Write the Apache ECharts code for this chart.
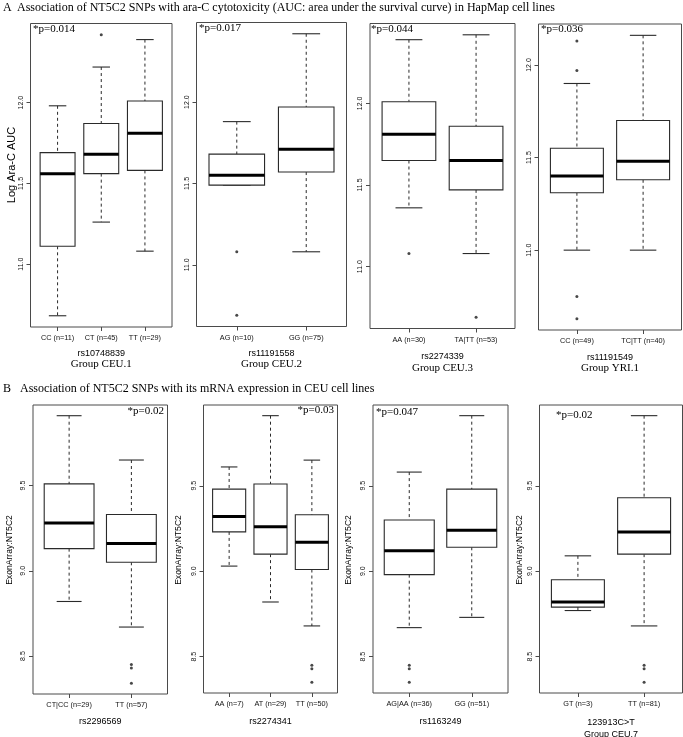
<!DOCTYPE html>
<html>
<head>
<meta charset="utf-8">
<script src="https://cdn.jsdelivr.net/npm/echarts@6/dist/echarts.min.js"></script>
<style>
  html, body { margin: 0; padding: 0; background: #fff; }
  #chart { width: 683px; height: 737px; }
</style>
</head>
<body>
<div id="chart"></div>
<script>
// ---------- DATA ----------
// box stats: [lower whisker, Q1, median, Q3, upper whisker]; outliers: [category index (1-based), value]
const a1Categories = ['CC (n=11)', 'CT (n=45)', 'TT (n=29)'];
const a1Boxes = [[10.68, 11.11, 11.56, 11.69, 11.98], [11.26, 11.56, 11.68, 11.87, 12.22], [11.08, 11.58, 11.81, 12.01, 12.39]];
const a1Outliers = [[2, 12.42]];

const a2Categories = ['AG (n=10)', 'GG (n=75)'];
const a2Boxes = [[11.49, 11.49, 11.55, 11.68, 11.88], [11.08, 11.57, 11.71, 11.97, 12.42]];
const a2Outliers = [[1, 11.08], [1, 10.69]];

const a3Categories = ['AA (n=30)', 'TA|TT (n=53)'];
const a3Boxes = [[11.36, 11.65, 11.81, 12.01, 12.39], [11.08, 11.47, 11.65, 11.86, 12.42]];
const a3Outliers = [[1, 11.08], [2, 10.69]];

const a4Categories = ['CC (n=49)', 'TC|TT (n=40)'];
const a4Boxes = [[11.00, 11.31, 11.40, 11.55, 11.90], [11.00, 11.38, 11.48, 11.70, 12.16]];
const a4Outliers = [[1, 12.13], [1, 11.97], [1, 10.75], [1, 10.63]];

const b1Categories = ['CT|CC (n=29)', 'TT (n=57)'];
const b1Boxes = [[8.82, 9.13, 9.28, 9.51, 9.91], [8.67, 9.05, 9.16, 9.33, 9.65]];
const b1Outliers = [[2, 8.45], [2, 8.43], [2, 8.34]];

const b2Categories = ['AA (n=7)', 'AT (n=29)', 'TT (n=50)'];
const b2Boxes = [[9.03, 9.23, 9.32, 9.48, 9.61], [8.82, 9.10, 9.26, 9.51, 9.91], [8.68, 9.01, 9.17, 9.33, 9.65]];
const b2Outliers = [[3, 8.45], [3, 8.43], [3, 8.35]];

const b3Categories = ['AG|AA (n=36)', 'GG (n=51)'];
const b3Boxes = [[8.67, 8.98, 9.12, 9.30, 9.58], [8.73, 9.14, 9.24, 9.48, 9.91]];
const b3Outliers = [[1, 8.45], [1, 8.43], [1, 8.35]];

const b4Categories = ['GT (n=3)', 'TT (n=81)'];
const b4Boxes = [[8.77, 8.79, 8.82, 8.95, 9.09], [8.68, 9.10, 9.23, 9.43, 9.91]];
const b4Outliers = [[2, 8.45], [2, 8.43], [2, 8.35]];

const aTicks = [11.0, 11.5, 12.0];
const bTicks = [8.5, 9.0, 9.5];

const snpNames = ['rs10748839', 'rs11191558', 'rs2274339', 'rs11191549', 'rs2296569', 'rs2274341', 'rs1163249', '123913C>T'];
const groupNames = ['Group CEU.1', 'Group CEU.2', 'Group CEU.3', 'Group YRI.1', '', '', '', 'Group CEU.7'];
const pValues = ['*p=0.014', '*p=0.017', '*p=0.044', '*p=0.036', '*p=0.02', '*p=0.03', '*p=0.047', '*p=0.02'];
const titleA = 'Association of NT5C2 SNPs with ara-C cytotoxicity (AUC: area under the survival curve) in HapMap cell lines';
const titleB = 'Association of NT5C2 SNPs with its mRNA expression in CEU cell lines';
const yNameA = 'Log Ara-C AUC';
const yNameB = 'ExonArray:NT5C2';

// ---------- LAYOUT ----------
const SANS = '"Liberation Sans", Arial, sans-serif';
const SERIF = '"Liberation Serif", "Times New Roman", serif';

const panels = [
  { cats: a1Categories, boxes: a1Boxes, out: a1Outliers, ticks: aTicks, grid: [30.5, 23.5, 141.5, 303.5], labY: 339, snpY: 354, grpY: 364.5, grpFont: SERIF, p: { x: 33, y: 29, align: 'left' }, yName: { x: 12, y: 165, text: yNameA, size: 11 } },
  { cats: a2Categories, boxes: a2Boxes, out: a2Outliers, ticks: aTicks, grid: [196.5, 22.5, 150, 304], labY: 339, snpY: 353.5, grpY: 364.5, grpFont: SERIF, p: { x: 199, y: 28, align: 'left' } },
  { cats: a3Categories, boxes: a3Boxes, out: a3Outliers, ticks: aTicks, grid: [370, 23.5, 145, 305], labY: 342, snpY: 357, grpY: 368, grpFont: SERIF, p: { x: 371, y: 29, align: 'left' } },
  { cats: a4Categories, boxes: a4Boxes, out: a4Outliers, ticks: aTicks, grid: [538.5, 24, 143, 306], labY: 343, snpY: 358, grpY: 368.5, grpFont: SERIF, p: { x: 541, y: 29, align: 'left' } },
  { cats: b1Categories, boxes: b1Boxes, out: b1Outliers, ticks: bTicks, grid: [33, 405, 134.5, 289], labY: 704.5, snpY: 722, grpY: 734, grpFont: SANS, p: { x: 164, y: 411.5, align: 'right' }, yName: { x: 10, y: 550, text: yNameB, size: 8.6 } },
  { cats: b2Categories, boxes: b2Boxes, out: b2Outliers, ticks: bTicks, grid: [203.5, 405, 134, 288], labY: 704.5, snpY: 722, grpY: 734, grpFont: SANS, p: { x: 334, y: 410.5, align: 'right' }, yName: { x: 179, y: 550, text: yNameB, size: 8.6 } },
  { cats: b3Categories, boxes: b3Boxes, out: b3Outliers, ticks: bTicks, grid: [373, 405, 135, 288], labY: 704.5, snpY: 722, grpY: 734, grpFont: SANS, p: { x: 376, y: 412, align: 'left' }, yName: { x: 349, y: 550, text: yNameB, size: 8.6 } },
  { cats: b4Categories, boxes: b4Boxes, out: b4Outliers, ticks: bTicks, grid: [539.5, 405, 143, 288], labY: 704.5, snpY: 722.5, grpY: 734.5, grpFont: SANS, p: { x: 556, y: 415, align: 'left' }, yName: { x: 520, y: 550, text: yNameB, size: 8.6 } }
];

const LINE = '#2a2a2a';
const FRAME = '#4a4a4a';

function renderBox(params, api) {
  const x = api.value(0);
  const lo = api.coord([x, api.value(1)]);
  const q1 = api.coord([x, api.value(2)]);
  const md = api.coord([x, api.value(3)]);
  const q3 = api.coord([x, api.value(4)]);
  const hi = api.coord([x, api.value(5)]);
  const bw = api.size([0.8, 0])[0];
  const cx = lo[0];
  const half = bw / 2, st = bw / 4;
  const solid = { stroke: LINE, lineWidth: 1.1, fill: null };
  const dashed = { stroke: LINE, lineWidth: 1, lineDash: [3, 3], fill: null };
  return {
    type: 'group',
    children: [
      { type: 'line', shape: { x1: cx, y1: hi[1], x2: cx, y2: q3[1] }, style: dashed },
      { type: 'line', shape: { x1: cx, y1: q1[1], x2: cx, y2: lo[1] }, style: dashed },
      { type: 'line', shape: { x1: cx - st, y1: hi[1], x2: cx + st, y2: hi[1] }, style: solid },
      { type: 'line', shape: { x1: cx - st, y1: lo[1], x2: cx + st, y2: lo[1] }, style: solid },
      { type: 'rect', shape: { x: cx - half, y: q3[1], width: bw, height: q1[1] - q3[1] }, style: { stroke: LINE, lineWidth: 1.1, fill: '#fff' } },
      { type: 'line', shape: { x1: cx - half, y1: md[1], x2: cx + half, y2: md[1] }, style: { stroke: '#000', lineWidth: 3 } }
    ]
  };
}

const grid = [], xAxis = [], yAxis = [], series = [], graphic = [];

function txt(x, y, text, font, align, vAlign, rotation) {
  const el = {
    type: 'text', x: x, y: y, silent: true,
    style: { text: text, font: font, fill: '#000', textAlign: align, textVerticalAlign: vAlign, align: align, verticalAlign: vAlign }
  };
  if (rotation) el.rotation = rotation;
  return el;
}

panels.forEach(function (p, i) {
  const n = p.cats.length;
  let vals = [];
  p.boxes.forEach(function (b) { vals = vals.concat(b); });
  p.out.forEach(function (o) { vals.push(o[1]); });
  const lo = Math.min.apply(null, vals), hi = Math.max.apply(null, vals);
  const ext = (hi - lo) * 0.04;
  const idx = [];
  for (let k = 1; k <= n; k++) idx.push(k);

  grid.push({ left: p.grid[0], top: p.grid[1], width: p.grid[2], height: p.grid[3], show: true, borderColor: FRAME, borderWidth: 1, backgroundColor: 'transparent' });
  xAxis.push({
    type: 'value', gridIndex: i, min: 0.5 - 0.04 * n, max: n + 0.5 + 0.04 * n,
    axisLine: { show: false }, splitLine: { show: false },
    axisTick: { show: true, customValues: idx, length: 4, lineStyle: { color: FRAME } },
    axisLabel: { customValues: idx, formatter: function (v) { return p.cats[Math.round(v) - 1]; }, fontSize: 7.3, fontFamily: SANS, color: '#111', margin: 7.5 }
  });
  yAxis.push({
    type: 'value', gridIndex: i, min: lo - ext, max: hi + ext,
    axisLine: { show: false }, splitLine: { show: false },
    axisTick: { show: true, customValues: p.ticks, length: 4, lineStyle: { color: FRAME } },
    axisLabel: { customValues: p.ticks, rotate: 90, formatter: function (v) { return v.toFixed(1); }, fontSize: 7, fontFamily: SANS, color: '#111', margin: 6 }
  });
  series.push({
    type: 'custom', xAxisIndex: i, yAxisIndex: i, renderItem: renderBox, clip: false,
    encode: { x: 0, y: [1, 2, 3, 4, 5] },
    data: p.boxes.map(function (b, k) { return [k + 1].concat(b); })
  });
  series.push({
    type: 'scatter', xAxisIndex: i, yAxisIndex: i, symbol: 'circle', symbolSize: 3,
    itemStyle: { color: '#1a1a1a' }, data: p.out.map(function (o) { return [o[0], o[1]]; }), silent: true
  });

  const cx = p.grid[0] + p.grid[2] / 2;
  graphic.push(txt(cx, p.snpY, snpNames[i], '9px ' + SANS, 'center', 'middle'));
  if (groupNames[i]) graphic.push(txt(cx, p.grpY, groupNames[i], (p.grpFont === SERIF ? '11px ' : '9px ') + p.grpFont, 'center', 'middle'));
  graphic.push(txt(p.p.x, p.p.y, pValues[i], '11px ' + SERIF, p.p.align, 'middle'));
  if (p.yName) graphic.push(txt(p.yName.x, p.yName.y, p.yName.text, p.yName.size + 'px ' + SANS, 'center', 'middle', Math.PI / 2));
});

graphic.push(txt(3, 8, 'A', '12px ' + SERIF, 'left', 'middle'));
graphic.push(txt(17, 8, titleA, '12px ' + SERIF, 'left', 'middle'));
graphic.push(txt(3, 389, 'B', '12px ' + SERIF, 'left', 'middle'));
graphic.push(txt(20, 389, titleB, '12px ' + SERIF, 'left', 'middle'));

const chart = echarts.init(document.getElementById('chart'), null, { renderer: 'canvas' });
chart.setOption({
  animation: false,
  backgroundColor: '#fff',
  grid: grid, xAxis: xAxis, yAxis: yAxis, series: series, graphic: graphic
});
</script>
</body>
</html>
